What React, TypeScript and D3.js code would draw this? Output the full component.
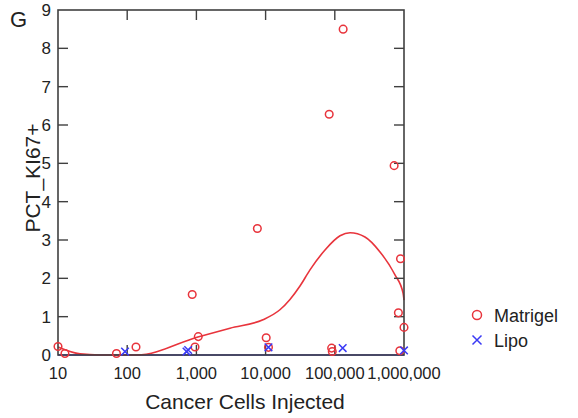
import React, { useEffect, useRef } from 'react';
import * as d3 from 'd3';

// Matrigel observations: cells injected, PCT_KI67+
const matrigelCells = [10, 12.6, 70, 134, 1065, 955, 870, 7600, 10200, 11000, 90000, 92000, 132000, 83000, 720000, 890000, 830000, 1000000, 870000];
const matrigelPct = [0.22, 0.04, 0.04, 0.21, 0.48, 0.21, 1.58, 3.30, 0.45, 0.2, 0.18, 0.09, 8.50, 6.28, 4.94, 2.51, 1.10, 0.72, 0.11];

// Lipo observations
const lipoCells = [93, 720, 760, 11000, 130000, 1000000];
const lipoPct = [0.09, 0.09, 0.13, 0.2, 0.18, 0.12];

// fitted curve for Matrigel
const fitCells = [10, 20.8, 40, 138, 1050, 3060, 9160, 16100, 22500, 31400, 43800, 72200, 119000, 166000, 273000, 450000, 741000, 968000, 1000000];
const fitPct = [0.21, 0.03, 0, 0, 0.47, 0.70, 0.92, 1.18, 1.45, 1.80, 2.22, 2.74, 3.11, 3.19, 3.08, 2.69, 2.09, 1.62, 1.43];

// Lipo fit is flat at zero
const lipoFitCells = [10, 1000000];
const lipoFitPct = [0, 0];

const xTicks = [10, 100, 1000, 10000, 100000, 1000000];
const yTicks = [0, 1, 2, 3, 4, 5, 6, 7, 8, 9];

const RED = '#e8343c';
const BLUE = '#3a3af5';
const AXIS = '#404040';

const App = () => {
    const svgRef = useRef(null);

    useEffect(() => {
        if (!svgRef.current) return;
        const svg = d3.select(svgRef.current);
        svg.selectAll('*').remove();

        const left = 58, right = 404, top = 10, bottom = 355;
        const x = d3.scaleLog().domain([10, 1000000]).range([left, right]);
        const y = d3.scaleLinear().domain([0, 9]).range([bottom, top]);
        const font = 'Liberation Sans, Arial, sans-serif';

        // fit lines
        const line = d3.line()
            .x(d => x(d[0]))
            .y(d => y(d[1]))
            .curve(d3.curveMonotoneX);

        svg.append('path')
            .datum(lipoFitCells.map((c, i) => [c, lipoFitPct[i]]))
            .attr('fill', 'none')
            .attr('stroke', BLUE)
            .attr('stroke-width', 1.6)
            .attr('d', line);

        svg.append('path')
            .datum(fitCells.map((c, i) => [c, fitPct[i]]))
            .attr('fill', 'none')
            .attr('stroke', RED)
            .attr('stroke-width', 1.6)
            .attr('d', line);

        // frame
        svg.append('rect')
            .attr('x', left).attr('y', top)
            .attr('width', right - left).attr('height', bottom - top)
            .attr('fill', 'none')
            .attr('stroke', AXIS)
            .attr('stroke-width', 1.6);

        // inward ticks
        const tk = svg.append('g').attr('stroke', AXIS).attr('stroke-width', 1.4);
        xTicks.slice(1, -1).forEach(t => {
            tk.append('line').attr('x1', x(t)).attr('x2', x(t)).attr('y1', top).attr('y2', top + 10);
            tk.append('line').attr('x1', x(t)).attr('x2', x(t)).attr('y1', bottom).attr('y2', bottom - 10);
        });
        yTicks.slice(1, -1).forEach(t => {
            tk.append('line').attr('x1', left).attr('x2', left + 10).attr('y1', y(t)).attr('y2', y(t));
            tk.append('line').attr('x1', right).attr('x2', right - 10).attr('y1', y(t)).attr('y2', y(t));
        });

        // tick labels
        const fmt = d3.format(',');
        svg.append('g').selectAll('text')
            .data(xTicks)
            .enter().append('text')
            .attr('x', d => x(d))
            .attr('y', 379)
            .attr('text-anchor', 'middle')
            .attr('font-family', font)
            .attr('font-size', 16.5)
            .attr('fill', '#222')
            .text(d => fmt(d));

        svg.append('g').selectAll('text')
            .data(yTicks)
            .enter().append('text')
            .attr('x', 51)
            .attr('y', d => y(d) + 6)
            .attr('text-anchor', 'end')
            .attr('font-family', font)
            .attr('font-size', 17)
            .attr('fill', '#222')
            .text(d => d);

        // points
        svg.append('g').selectAll('circle')
            .data(matrigelCells.map((c, i) => [c, matrigelPct[i]]))
            .enter().append('circle')
            .attr('cx', d => x(d[0]))
            .attr('cy', d => y(d[1]))
            .attr('r', 3.8)
            .attr('fill', 'none')
            .attr('stroke', RED)
            .attr('stroke-width', 1.5);

        const cross = (g, cx, cy, s) => {
            g.append('path')
                .attr('d', `M${cx - s},${cy - s}L${cx + s},${cy + s}M${cx - s},${cy + s}L${cx + s},${cy - s}`)
                .attr('stroke', BLUE)
                .attr('stroke-width', 1.5)
                .attr('fill', 'none');
        };
        const lg = svg.append('g');
        lipoCells.forEach((c, i) => cross(lg, x(c), y(lipoPct[i]), 3.8));

        // titles
        svg.append('text')
            .attr('x', 10).attr('y', 27)
            .attr('font-family', font).attr('font-size', 22)
            .attr('fill', '#222')
            .text('G');

        svg.append('text')
            .attr('x', 245).attr('y', 409)
            .attr('text-anchor', 'middle')
            .attr('font-family', font).attr('font-size', 21)
            .attr('fill', '#222')
            .text('Cancer Cells Injected');

        svg.append('text')
            .attr('transform', 'translate(40,178) rotate(-90)')
            .attr('text-anchor', 'middle')
            .attr('font-family', font).attr('font-size', 21)
            .attr('fill', '#222')
            .text('PCT_KI67+');

        // legend
        svg.append('circle')
            .attr('cx', 477).attr('cy', 315).attr('r', 4.5)
            .attr('fill', 'none').attr('stroke', RED).attr('stroke-width', 1.5);
        svg.append('text')
            .attr('x', 494).attr('y', 322)
            .attr('font-family', font).attr('font-size', 18)
            .attr('fill', '#222')
            .text('Matrigel');
        cross(svg, 477, 340, 4.5);
        svg.append('text')
            .attr('x', 494).attr('y', 347)
            .attr('font-family', font).attr('font-size', 18)
            .attr('fill', '#222')
            .text('Lipo');
    }, []);

    return (
        <svg
            ref={svgRef}
            width={578}
            height={418}
            style={{ position: 'absolute', left: 0, top: 0, background: '#fff' }}
        />
    );
};

export default App;
